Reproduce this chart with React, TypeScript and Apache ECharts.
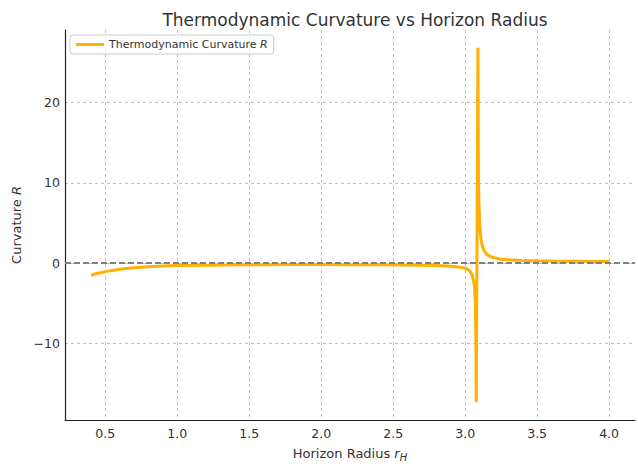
import React, { useEffect, useRef } from "react";
import * as echarts from "echarts";

const rH = [0.4, 0.45, 0.5, 0.6, 0.7, 0.8, 0.9, 1.0, 1.2, 1.4, 1.6, 1.8, 2.0, 2.2, 2.4, 2.6, 2.8, 2.9, 2.95, 3.0, 3.02, 3.04, 3.05, 3.06, 3.065, 3.07, 3.074, 3.077, 3.089, 3.092, 3.095, 3.1, 3.105, 3.11, 3.12, 3.13, 3.15, 3.18, 3.2, 3.25, 3.3, 3.4, 3.5, 3.6, 3.7, 3.8, 3.9, 4.0];
const curvature = [-1.5, -1.25, -1.05, -0.75, -0.56, -0.44, -0.36, -0.3, -0.24, -0.2, -0.18, -0.17, -0.17, -0.18, -0.2, -0.23, -0.3, -0.38, -0.46, -0.62, -0.8, -1.15, -1.5, -2.3, -3.0, -4.8, -8.5, -17.3, 26.8, 12, 8, 5.2, 3.9, 3.0, 2.1, 1.6, 1.1, 0.8, 0.68, 0.5, 0.42, 0.33, 0.29, 0.26, 0.24, 0.23, 0.22, 0.21];
const xTicks = [0.5, 1.0, 1.5, 2.0, 2.5, 3.0, 3.5, 4.0];
const yTicks = [-10, 0, 10, 20];

const FONT = "DejaVu Sans";

export default function App() {
  const ref = useRef<HTMLDivElement>(null);
  useEffect(() => {
    if (!ref.current) return;
    const chart = echarts.init(ref.current, undefined, { renderer: "svg" });
    const data = rH.map((x, i) => [x, curvature[i]]);
    chart.setOption({
      animation: false,
      backgroundColor: "#fff",
      textStyle: { fontFamily: FONT },
      title: {
        text: "Thermodynamic Curvature vs Horizon Radius",
        left: 350,
        top: 6,
        textAlign: "center",
        textStyle: { fontFamily: FONT, fontSize: 17, fontWeight: "normal", color: "#333" },
      },
      legend: {
        left: 70,
        top: 35,
        padding: [4, 6, 4, 6],
        borderColor: "#ccc",
        borderWidth: 1,
        borderRadius: 3,
        backgroundColor: "rgba(255,255,255,0.8)",
        icon: "rect",
        itemWidth: 28,
        itemHeight: 3,
        itemGap: 6,
        formatter: () => "{a|Thermodynamic Curvature }{b|R}",
        textStyle: {
          fontFamily: FONT,
          color: "#333",
          rich: {
            a: { fontFamily: FONT, fontSize: 11, color: "#333" },
            b: { fontFamily: FONT, fontSize: 11, color: "#333", fontStyle: "italic" },
          },
        },
        data: ["Thermodynamic Curvature R"],
      },
      grid: { left: 65, right: 3, top: 30, bottom: 35, containLabel: false },
      xAxis: {
        type: "value",
        min: 0.22,
        max: 4.18,
        name: "{a|Horizon Radius }{b|r}{c|H}",
        nameLocation: "middle",
        nameGap: 24,
        nameTextStyle: {
          rich: {
            a: { fontFamily: FONT, fontSize: 13, color: "#333" },
            b: { fontFamily: FONT, fontSize: 13, color: "#333", fontStyle: "italic" },
            c: { fontFamily: FONT, fontSize: 10, color: "#333", fontStyle: "italic", padding: [8, 0, 0, 0] },
          },
        },
        axisLine: { show: true, onZero: false, lineStyle: { color: "#222", width: 1.2 } },
        axisTick: { show: false, customValues: xTicks },
        axisLabel: {
          customValues: xTicks,
          formatter: (v: number) => v.toFixed(1),
          fontFamily: FONT,
          fontSize: 12.5,
          color: "#333",
          margin: 7,
        },
        splitLine: { show: true, lineStyle: { color: "#b0b0b0", type: [3, 3], width: 0.8 } },
      },
      yAxis: {
        type: "value",
        min: -19.5,
        max: 29,
        name: "{a|Curvature }{b|R}",
        nameLocation: "middle",
        nameGap: 36,
        nameTextStyle: {
          rich: {
            a: { fontFamily: FONT, fontSize: 13, color: "#333" },
            b: { fontFamily: FONT, fontSize: 13, color: "#333", fontStyle: "italic" },
          },
        },
        axisLine: { show: true, onZero: false, lineStyle: { color: "#222", width: 1.2 } },
        axisTick: { show: false, customValues: yTicks },
        axisLabel: {
          customValues: yTicks,
          formatter: (v: number) => String(v).replace("-", "\u2212"),
          fontFamily: FONT,
          fontSize: 12.5,
          color: "#333",
          margin: 5,
        },
        splitLine: { show: true, lineStyle: { color: "#b0b0b0", type: [3, 3], width: 0.8 } },
      },
      series: [
        {
          name: "Thermodynamic Curvature R",
          type: "line",
          data,
          symbol: "none",
          smooth: false,
          lineStyle: { color: "#FFB000", width: 3 },
          itemStyle: { color: "#FFB000" },
          markLine: {
            silent: true,
            symbol: "none",
            label: { show: false },
            lineStyle: { color: "#808080", type: [6, 3], width: 1.8 },
            data: [{ yAxis: 0 }],
          },
          z: 3,
        },
      ],
    });
    return () => chart.dispose();
  }, []);
  return <div ref={ref} style={{ position: "fixed", left: 0, top: 0, width: 638, height: 467 }} />;
}
